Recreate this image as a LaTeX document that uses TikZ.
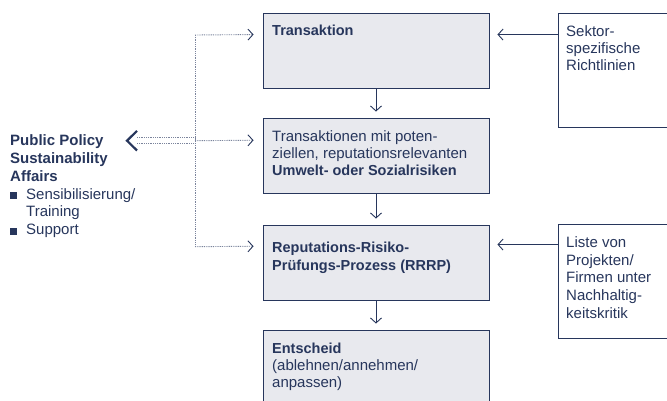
\documentclass[tikz,border=0pt]{standalone}
\usepackage{fontspec}
\setmainfont{Liberation Sans}
\usetikzlibrary{arrows.meta}
\definecolor{navy}{HTML}{27365C}
\definecolor{boxfill}{HTML}{E8E9EE}
\definecolor{dotc}{HTML}{7B849C}
\newcommand{\bx}[1]{{\fontsize{14.5}{17}\selectfont\bfseries #1}}
\begin{document}
\begin{tikzpicture}[x=1pt,y=-1pt,
  mainbox/.style={draw=navy, fill=boxfill, line width=0.9pt, rectangle, inner sep=0pt, minimum width=226pt},
  sidebox/.style={draw=navy, fill=white, line width=0.9pt, rectangle, inner sep=0pt, minimum width=142pt, minimum height=114pt},
  txt/.style={anchor=base west, inner sep=0pt, align=left, text=navy},
  arr/.style={draw=navy, line width=0.9pt, -{Straight Barb[length=5pt,width=11pt,line width=0.9pt]}},
  dotline/.style={draw=dotc, line width=0.9pt, dash pattern=on 0.9pt off 0.9pt},
  dotarr/.style={-{Straight Barb[length=5pt,width=11pt,line width=0.9pt,color=navy]}},
]
\useasboundingbox (0,0) rectangle (667,401);
\clip (0,0) rectangle (667,401);
% main boxes
\node[mainbox, minimum height=75pt] (b1) at (376,50.5) {};
\node[mainbox, minimum height=75pt] (b2) at (376,155.5) {};
\node[mainbox, minimum height=75pt] (b3) at (376,262.5) {};
\node[mainbox, minimum height=90pt] (b4) at (376,375) {};
% side boxes
\node[sidebox] (r1) at (629,70) {};
\node[sidebox] (r2) at (629,281) {};
% texts (anchor base = baseline of the last line)
\node[txt, font=\fontsize{15}{17}\selectfont] (t1) at (272,35.5) {\bx{Transaktion}};
\node[txt, font=\fontsize{15}{17}\selectfont] (t2) at (272,175.7) {Transaktionen mit poten-\\ziellen, reputationsrelevanten\\\bx{Umwelt- oder Sozialrisiken}};
\node[txt, font=\fontsize{15}{17.7}\selectfont] (t3) at (272,270) {\bx{Reputations-Risiko-}\\\bx{Prüfungs-Prozess (RRRP)}};
\node[txt, font=\fontsize{15}{17}\selectfont] (t4) at (272,387.3) {\bx{Entscheid}\\(ablehnen/annehmen/\\anpassen)};
\node[txt, font=\fontsize{15}{17}\selectfont] (s1) at (566,70.7) {Sektor-\\spezifische\\Richtlinien};
\node[txt, font=\fontsize{15}{17.6}\selectfont] (s2) at (566,318.1) {Liste von\\Projekten/\\Firmen unter\\Nachhaltig-\\keitskritik};
\node[txt, font=\fontsize{15}{17.8}\selectfont] (pp) at (10,234.7) {\textbf{Public Policy}\\\textbf{Sustainability}\\\textbf{Affairs}\\\makebox[16pt][l]{\rule{7pt}{7pt}}Sensibilisierung/\\\hspace*{16pt}Training\\\makebox[16pt][l]{\rule{7pt}{7pt}}Support};
% vertical arrows
\draw[arr, shorten >=6pt] (b1.south) -- (b2.north);
\draw[arr, shorten >=6pt] (b2.south) -- (b3.north);
\draw[arr, shorten >=6pt] (b3.south) -- (b4.north);
% side arrows
\draw[arr] ([yshift=-22pt]r1.north west) -- ([xshift=8pt,yshift=-22pt]b1.north east);
\draw[arr] ([yshift=-21pt]r2.north west) -- ([xshift=8pt,yshift=-20pt]b3.north east);
% dotted network
\coordinate (vtop) at (195,35);
\coordinate (vmid) at (195,140.7);
\coordinate (vbot) at (195,246.7);
\draw[dotline] (vtop) -- (vbot);
\draw[dotline, dotarr] (vtop) -- ([xshift=-9pt,yshift=-22pt]b1.north west);
\draw[dotline, dotarr] (vmid) -- ([xshift=-9pt,yshift=-22.7pt]b2.north west);
\draw[dotline, dotarr] (vbot) -- ([xshift=-9pt,yshift=-21.7pt]b3.north west);
% double dotted arrow to Public Policy
\coordinate (ptip) at (127,140.7);
\draw[dotline] ([xshift=10pt,yshift=3.2pt]ptip) -- ([yshift=3.2pt]vmid);
\draw[dotline] ([xshift=10pt,yshift=-3.2pt]ptip) -- ([yshift=-3.2pt]vmid);
\draw[navy, line width=2.2pt] ([xshift=10pt,yshift=9.8pt]ptip) -- (ptip) -- ([xshift=10pt,yshift=-9.8pt]ptip);
\end{tikzpicture}
\end{document}
